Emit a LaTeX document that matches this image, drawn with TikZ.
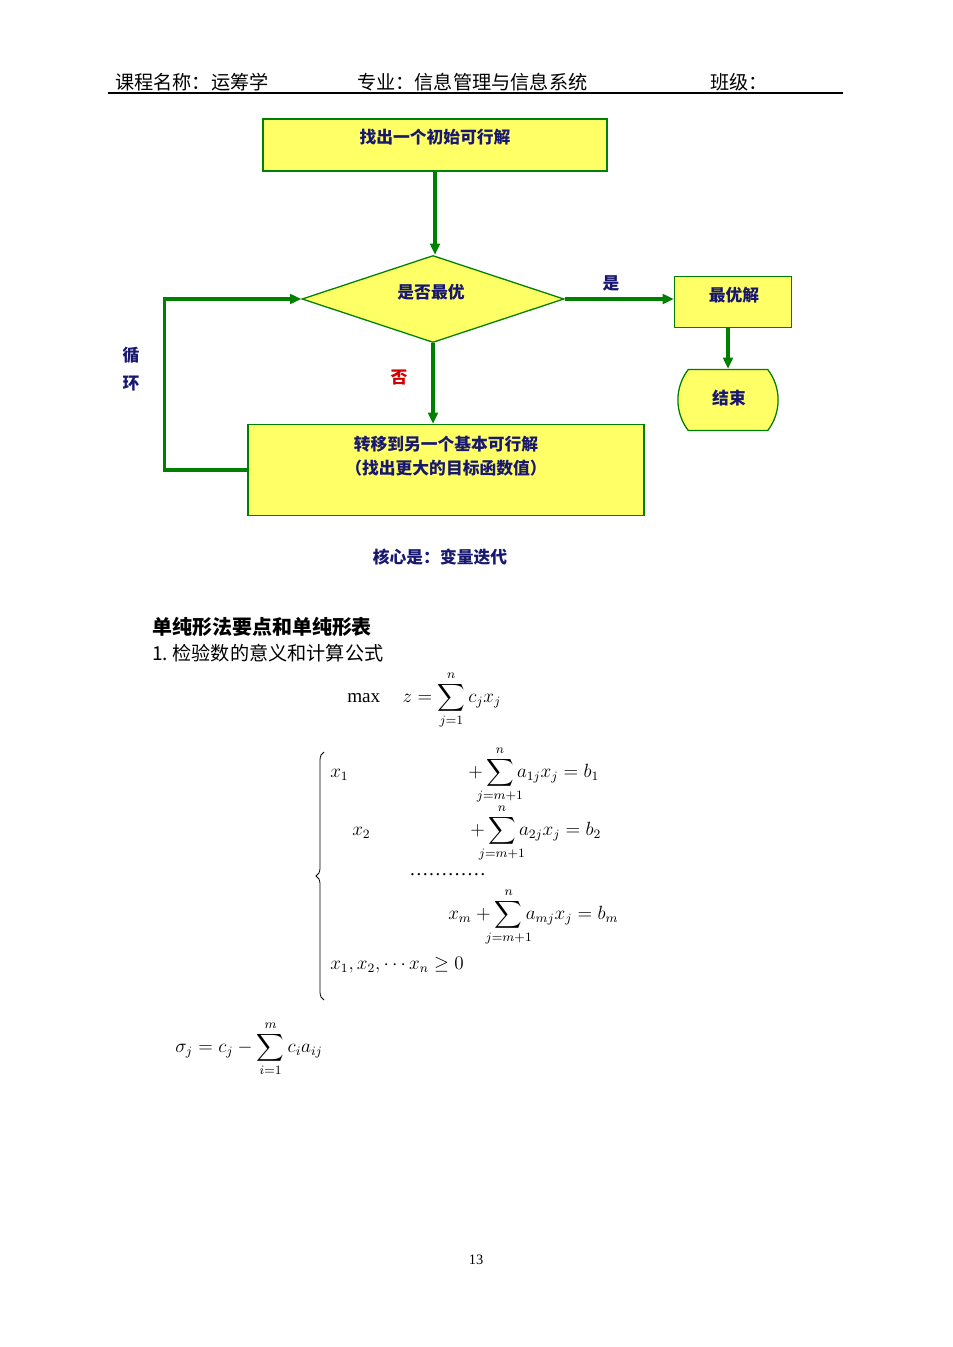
\documentclass[tikz,border=0pt]{standalone}
\usepackage{fontspec}
\usepackage{amsmath}
\usepackage{amssymb}
\usepackage{mathtools}
\setmainfont{Liberation Serif}
\newfontfamily\cjk{Noto Sans CJK SC}
\usetikzlibrary{shapes.geometric,shapes.misc,arrows.meta,positioning,decorations.pathreplacing}
\definecolor{flowgreen}{RGB}{0,128,0}
\definecolor{flowyellow}{RGB}{255,255,102}
\definecolor{flownavy}{RGB}{24,24,112}
\definecolor{flowred}{RGB}{210,0,0}
\newcommand{\pxl}{0.022cm}

\begin{document}
\begin{tikzpicture}[x=0.022cm, y=-0.022cm,
    box/.style={draw=flowgreen, fill=flowyellow, line width=0.8pt, inner sep=0pt},
    flow/.style={-{Triangle[length=7pt,width=6pt]}, line width=2pt, flowgreen},
    lbl/.style={font=\cjk\bfseries\fontsize{10.5}{13}\selectfont, text=flownavy, inner sep=1pt},
    head/.style={font=\cjk\fontsize{12}{14}\selectfont, anchor=west, inner sep=0pt},
    eq/.style={font=\fontsize{12}{14}\selectfont, inner sep=0pt}]
    \useasboundingbox (0,0) rectangle (952,1347);

    % Header
    \node[head] (course) at (115,82) {课程名称：运筹学};
    \node[head] (major) at (357,82) {专业：信息管理与信息系统};
    \node[head] (class) at (710,82) {班级：};
    \draw[line width=1.5pt] (108,93) -- (843,93);

    % Initial solution
    \node[box, minimum width=344*\pxl, minimum height=52*\pxl] (init) at (435,145) {};
    \node[lbl] (initT) at (435,137) {找出一个初始可行解};

    % Optimality test
    \node[box, diamond, aspect=3, minimum width=262*\pxl, minimum height=87*\pxl] (opt) at (433,299) {};
    \node[lbl] (optT) at (431,292) {是否最优};

    % Optimal solution and end
    \node[box, minimum width=117*\pxl, minimum height=51*\pxl] (best) at (733,302) {};
    \node[lbl] (bestT) at (734,295) {最优解};
    \node[box, rounded rectangle, rounded rectangle arc length=75, minimum width=97*\pxl, minimum height=61*\pxl] (stop) at (728,400) {};
    \node[lbl] (stopT) at (729,398) {结束};

    % Next basic feasible solution
    \node[box, minimum width=396*\pxl, minimum height=91*\pxl] (move) at (446,470) {};
    \node[lbl, align=center] (moveT) at (446,456) {转移到另一个基本可行解\\[2pt]（找出更大的目标函数值）};

    % Connectors
    \draw[flow] (init.south) -- (init.south |- opt.north);
    \draw[flow] (opt.east) -- (opt.east -| best.west);
    \draw[flow] (stop.north |- best.south) -- (stop.north);
    \draw[flow] (opt.south) -- (opt.south |- move.north);
    \draw[flow] (move.west) -- ++(-83,0) |- (opt.west);

    % Branch labels
    \node[lbl] (yes) at (611,283) {是};
    \node[lbl, text=flowred] (no) at (399,378) {否};
    \node[lbl, align=center] (loop) at (131,369) {循\\[5pt]环};
    \node[lbl] (core) at (440,557) {核心是：变量迭代};

    % Simplex text
    \node[head, font=\cjk\bfseries\fontsize{12.5}{14}\selectfont] (title) at (152,627) {单纯形法要点和单纯形表};
    \node[head] (item) at (152,653) {1.\ {\cjk 检验数的意义和计算公式}};

    % Formulas
    \node[eq, anchor=west] (maxz) at (347,700) {max\hspace{14pt}$\displaystyle z=\sum_{j=1}^{n}c_jx_j$};
    \draw[decorate, decoration={brace, amplitude=5pt}, line width=0.5pt] (324,1000) -- (324,752);
    \node[eq, anchor=west] (r1a) at (330,775) {$x_1$};
    \node[eq, anchor=west] (r1b) at (468,775) {$\displaystyle +\sum_{\mathclap{j=m+1}}^{n}a_{1j}x_j=b_1$};
    \node[eq, anchor=west] (r2a) at (352,833) {$x_2$};
    \node[eq, anchor=west] (r2b) at (470,833) {$\displaystyle +\sum_{\mathclap{j=m+1}}^{n}a_{2j}x_j=b_2$};
    \node[eq, anchor=west] (dots) at (409,875) {…………};
    \node[eq, anchor=west] (rm) at (448,917) {$\displaystyle x_m+\sum_{\mathclap{j=m+1}}^{n}a_{mj}x_j=b_m$};
    \node[eq, anchor=west] (nonneg) at (330,965) {$x_1,x_2,\cdots x_n\geq 0$};
    \node[eq, anchor=west] (sigma) at (175,1049) {$\displaystyle \sigma_j=c_j-\sum_{i=1}^{m}c_ia_{ij}$};

    % Page number
    \node[font=\fontsize{9}{11}\selectfont] (page) at (476,1260) {13};
\end{tikzpicture}
\end{document}
